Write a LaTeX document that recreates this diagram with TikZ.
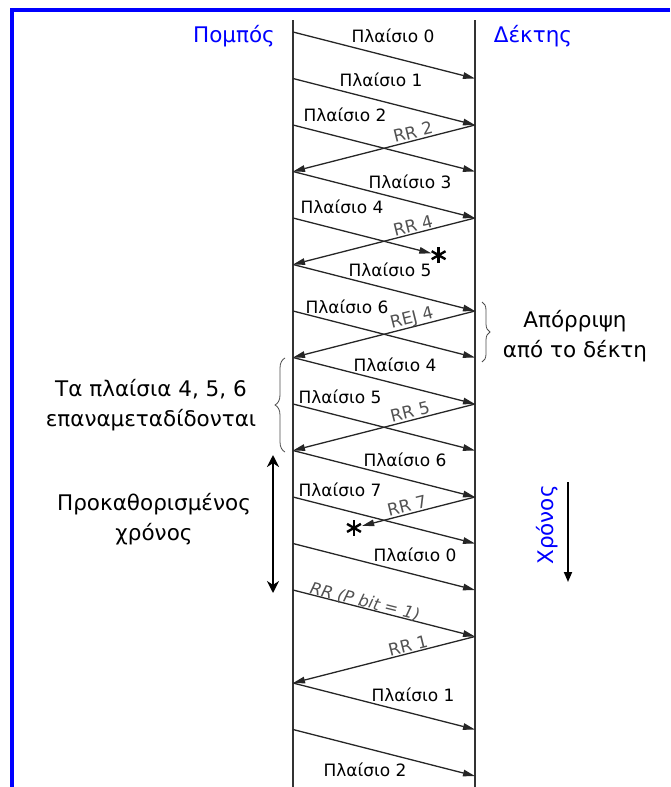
\documentclass[tikz,border=0pt]{standalone}
\usepackage{fontspec}
\setmainfont{DejaVu Sans}
\usetikzlibrary{arrows.meta, calc, decorations.pathreplacing, positioning}

\tikzset{
  frame/.style={draw=black!85, line width=1.3pt, -{Triangle[length=12pt,width=6.5pt]}},
  timeline/.style={draw=black!80, line width=2.4pt},
  lbl/.style={font=\fontsize{17}{20}\selectfont, inner sep=1pt},
  ack/.style={font=\fontsize{17}{19}\selectfont, text=black!68, inner sep=1pt},
  side/.style={font=\fontsize{21.5}{30}\selectfont, align=center},
  head/.style={font=\fontsize{21.5}{24}\selectfont, text=blue},
  brc/.style={draw=black!70, line width=0.8pt, decorate, decoration={brace, amplitude=#1}},
}

\begin{document}
\begin{tikzpicture}[x=1pt, y=-1pt]
  \useasboundingbox (0,0) rectangle (670,787);
  % blue frame
  \draw[blue, line width=4.5pt] (11.8,787) -- (11.8,10) -- (670,10);

  % time lines of sender and receiver
  \coordinate (stop) at (293,20);  \coordinate (sbot) at (293,787);
  \coordinate (rtop) at (475,20);  \coordinate (rbot) at (475,787);
  \draw[timeline] (stop) -- (sbot);
  \draw[timeline] (rtop) -- (rbot);
  \foreach \k in {0,...,16} {
    \coordinate (s\k) at (293,32+46.5*\k);
    \coordinate (r\k) at (475,32+46.5*\k);
  }

  \node[head] (tx) at (234,36) {Πομπός};
  \node[head] (rx) at (533,36) {Δέκτης};

  % frames and acks
  \draw[frame] (s0) -- (r1);
  \draw[frame] (s1) -- (r2);
  \draw[frame] (s2) -- (r3);
  \draw[frame] (r2) -- (s3);
  \draw[frame] (s3) -- (r4);
  \coordinate (lost4) at ($(s4)!0.76!(r5)$);
  \draw[frame] (s4) -- (lost4);
  \draw[frame] (r4) -- (s5);
  \draw[frame] (s5) -- (r6);
  \draw[frame] (s6) -- (r7);
  \draw[frame] (r6) -- (s7);
  \draw[frame] (s7) -- (r8);
  \draw[frame] (s8) -- (r9);
  \draw[frame] (r8) -- (s9);
  \draw[frame] (s9) -- (r10);
  \draw[frame] (s10) -- (r11);
  \coordinate (lost7) at ($(r10)!0.62!(s11)$);
  \draw[frame] (r10) -- (lost7);
  \draw[frame] (s11) -- (r12);
  \draw[frame] (s12) -- (r13);
  \draw[frame] (r13) -- (s14);
  \draw[frame] (s14) -- (r15);
  \draw[frame] (s15) -- (r16);

  % lost ones
  \coordinate (ast1) at ($(s4)!0.8!(r5)$);
  \coordinate (ast2) at ($(r10)!0.665!(s11)$);
  \foreach \a in {90,30,-30} {
    \draw[line width=2.4pt] ($(ast1)+(\a:8)$) -- ($(ast1)+(\a+180:8)$);
    \draw[line width=2.4pt] ($(ast2)+(\a:8)$) -- ($(ast2)+(\a+180:8)$);
  }

  \node[lbl] (f0) at (393,36) {Πλαίσιο 0};
  \node[lbl] (f1) at (381,80) {Πλαίσιο 1};
  \node[lbl] (f2) at (345,115) {Πλαίσιο 2};
  \node[ack, rotate=14] (a2) at (413,132) {RR 2};
  \node[lbl] (f3) at (410,182) {Πλαίσιο 3};
  \node[lbl] (f4) at (342,207) {Πλαίσιο 4};
  \node[ack, rotate=14] (a4) at (413,226) {RR 4};
  \node[lbl] (f5) at (390,270) {Πλαίσιο 5};
  \node[lbl] (f6) at (347,307) {Πλαίσιο 6};
  \node[ack, rotate=14] (rej) at (412,319) {REJ 4};
  \node[lbl] (f4b) at (395,365) {Πλαίσιο 4};
  \node[lbl] (f5b) at (340,397) {Πλαίσιο 5};
  \node[ack, rotate=14] (a5) at (410,412) {RR 5};
  \node[lbl] (f6b) at (405,460) {Πλαίσιο 6};
  \node[lbl] (f7) at (340,490) {Πλαίσιο 7};
  \node[ack, rotate=14] (a7) at (407,506) {RR 7};
  \node[lbl] (f0b) at (415,555) {Πλαίσιο 0};
  \node[ack, rotate=-14, font=\fontsize{16.5}{19}\selectfont\itshape] (poll) at (365,602) {RR (P bit = 1)};
  \node[ack, rotate=14] (a1) at (408,646) {RR 1};
  \node[lbl] (f1b) at (413,695) {Πλαίσιο 1};
  \node[lbl] (f2b) at (365,770) {Πλαίσιο 2};

  % receiver side
  \coordinate (rb1) at (482,302); \coordinate (rb2) at (482,362);
  \draw[brc=8pt] (rb1) -- (rb2);
  \node[side] (drop) at (575,336) {Απόρριψη\\από το δέκτη};

  % sender side
  \coordinate (lb1) at (285,452); \coordinate (lb2) at (285,358);
  \draw[brc=10pt] (lb1) -- (lb2);
  \node[side] (resend) at (151,405) {Τα πλαίσια 4, 5, 6\\επαναμεταδίδονται};
  \coordinate (tm1) at (273,455); \coordinate (tm2) at (273,593);
  \draw[line width=2.8pt, {Stealth[length=12pt,width=12pt]}-{Stealth[length=12pt,width=12pt]}] (tm1) -- (tm2);
  \node[side] (timeout) at (154,519) {Προκαθορισμένος\\χρόνος};

  % time axis
  \coordinate (t1) at (568,482); \coordinate (t2) at (568,582);
  \draw[line width=1.8pt, -{Triangle[length=10pt,width=8pt]}] (t1) -- (t2);
  \node[head, rotate=90] (time) at (547,525) {Χρόνος};
\end{tikzpicture}
\end{document}
